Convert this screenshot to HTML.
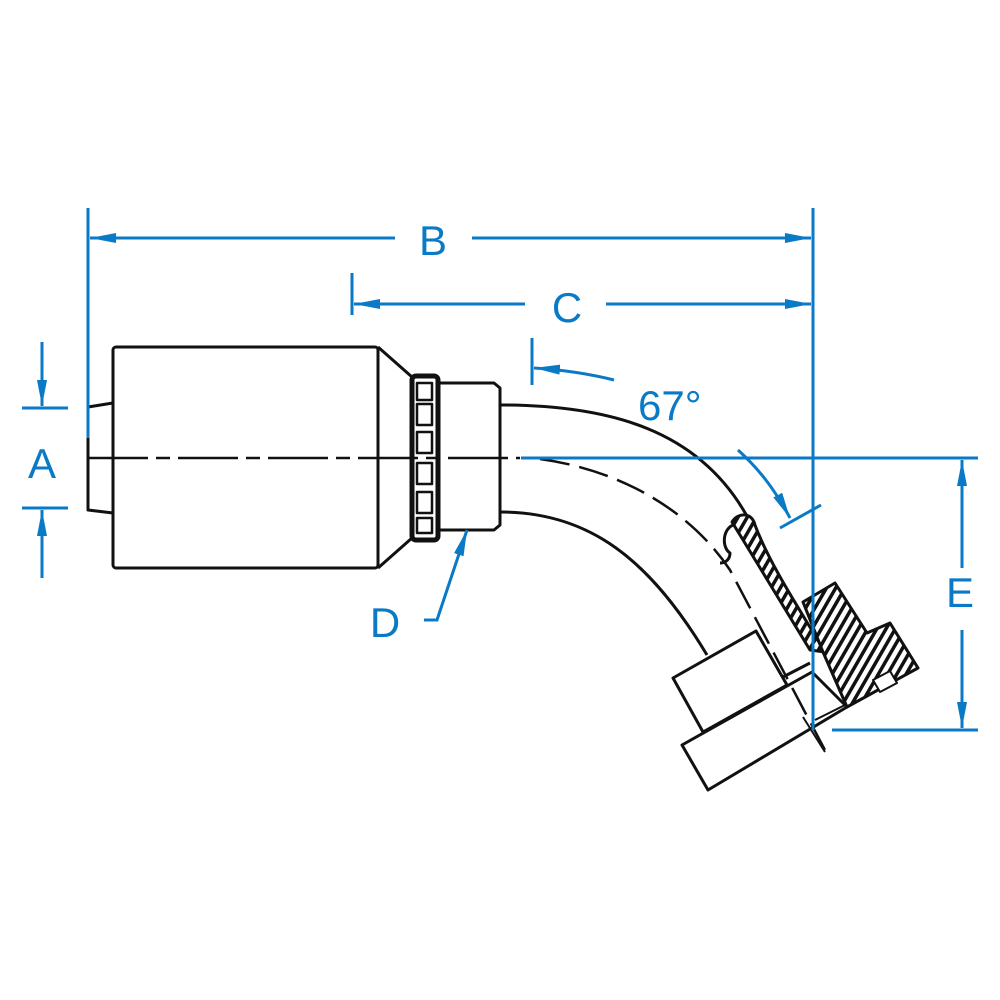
<!DOCTYPE html>
<html><head><style>body{margin:0;background:#fff}svg{display:block}</style></head><body>
<svg width="1000" height="1000" viewBox="0 0 1000 1000" xmlns="http://www.w3.org/2000/svg">
<defs>
<pattern id="h" width="8" height="8" patternUnits="userSpaceOnUse" patternTransform="rotate(30)">
<rect width="8" height="8" fill="#fff"/><rect width="3.5" height="8" fill="#111"/></pattern>
<marker id="arb" markerWidth="26" markerHeight="10" refX="26" refY="5" orient="auto" markerUnits="userSpaceOnUse" viewBox="0 0 26 10"><path d="M0,0 L26,5 L0,10 Z" fill="#0a7ac6"/></marker>
</defs>
<g fill="none" stroke="#111" stroke-width="3" stroke-linejoin="round">
<path d="M113,403 L88,407 L88,510 L113,513"/>
<rect x="113" y="347" width="265" height="221" rx="3" fill="#fff"/>
<path d="M378,347 L412,377 M378,568 L412,538"/>
<rect x="412" y="376" width="26" height="164" rx="4" stroke-width="5" fill="#fff"/>
<g stroke-width="2.5">
<rect x="417" y="383" width="15" height="17"/><rect x="417" y="404" width="15" height="21"/><rect x="417" y="432" width="15" height="21"/>
<rect x="417" y="463" width="15" height="21"/><rect x="417" y="492" width="15" height="21"/><rect x="417" y="518" width="15" height="15"/>
</g>
<path d="M438,383 L494,383 L500,388 L500,525 L494,530 L438,530"/>
<path d="M500,405 C610,405 700,430 748,518"/>
<path d="M500,512 C590,512 650,560 707,655"/>
<path d="M732,522 C738,512 752,512 755,525 C770,565 800,610 825,652 L810,650 L740,535 Z" fill="url(#h)"/>
<path d="M733,525 C722,530 722,548 730,553 C730,560 725,563 720,563"/>
<path d="M803,602 L835,583 L867,633 L890,623 L918,668 L847,707 L823,652 Z" fill="url(#h)"/>
<path d="M873,680 L890,671 L897,683 L880,692 Z" fill="#fff" stroke-width="2"/>
<path d="M673,678 L756,631 L787,685 L703,732 Z" fill="#fff"/>
<path d="M682,745 L812,672 L847,707 L708,790 Z" fill="#fff"/>
<path d="M783,677 L810,663"/>
<path d="M815,720 L845,705" stroke-width="2"/>
<path d="M88,458 L520,458" stroke-dasharray="60,8,14,8" stroke-width="2.5"/>
<path d="M540,459 C620,470 690,510 730,570 L826,752" stroke-dasharray="30,10" stroke-width="2.5"/>
<path d="M803,717 L825,752" stroke-width="2"/>
</g>
<g stroke="#0a7ac6" stroke-width="3" fill="none">
<path d="M88,208 L88,438 M813,208 L813,730"/>
<path d="M395,238 L90,238" marker-end="url(#arb)"/><path d="M472,238 L811,238" marker-end="url(#arb)"/>
<path d="M352,273 L352,315"/>
<path d="M525,304 L354,304" marker-end="url(#arb)"/><path d="M606,304 L811,304" marker-end="url(#arb)"/>
<path d="M532,338 L532,385"/>
<path d="M614,380 C590,374 565,370 534,368" marker-end="url(#arb)"/>
<path d="M738,450 C760,470 775,490 790,518" marker-end="url(#arb)"/>
<path d="M780,528 L821,505"/>
<path d="M521,458 L978,458 M832,730 L978,730"/>
<path d="M962,568 L962,460" marker-end="url(#arb)"/><path d="M962,630 L962,728" marker-end="url(#arb)"/>
<path d="M22,408 L68,408 M22,508 L68,508"/>
<path d="M42,342 L42,406" marker-end="url(#arb)"/><path d="M42,578 L42,510" marker-end="url(#arb)"/>
<path d="M424,620 L437,620 L467,530" marker-end="url(#arb)"/>
</g>
<g fill="#0a7ac6" font-family="Liberation Sans, sans-serif" font-size="42">
<text x="433" y="255" text-anchor="middle">B</text>
<text x="567" y="322" text-anchor="middle">C</text>
<text x="638" y="420">67°</text>
<text x="960" y="607" text-anchor="middle">E</text>
<text x="42" y="478" text-anchor="middle">A</text>
<text x="385" y="637" text-anchor="middle">D</text>
</g>
</svg>
</body></html>
